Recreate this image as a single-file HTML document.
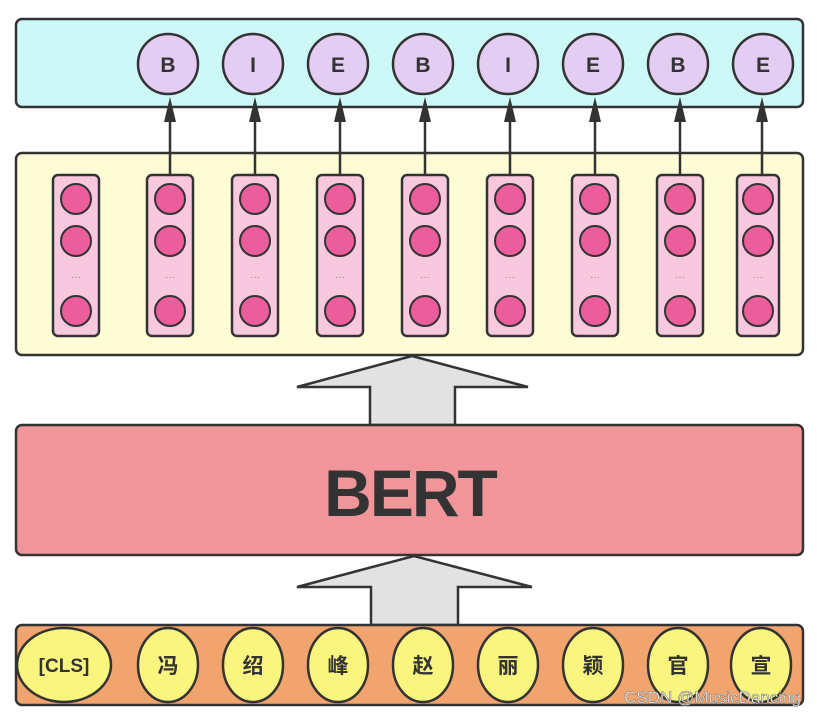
<!DOCTYPE html>
<html><head><meta charset="utf-8"><style>
html,body{margin:0;padding:0;background:#fff;}
svg{display:block;}
</style></head><body>
<svg width="818" height="718" viewBox="0 0 818 718" xmlns="http://www.w3.org/2000/svg" font-family="Liberation Sans, Noto Sans CJK SC, sans-serif">
<rect x="16" y="19" width="787" height="88" rx="6" fill="#ccf8f8" stroke="#333" stroke-width="2.5"/>
<g stroke="#333" stroke-width="2.5" fill="#e4cdf2">
<circle cx="168" cy="64" r="30"/><circle cx="253" cy="64" r="30"/><circle cx="338" cy="64" r="30"/><circle cx="423" cy="64" r="30"/>
<circle cx="508" cy="64" r="30"/><circle cx="593" cy="64" r="30"/><circle cx="678" cy="64" r="30"/><circle cx="763" cy="64" r="30"/>
</g>
<g fill="#333" font-weight="bold" font-size="21" text-anchor="middle">
<text x="168" y="72">B</text><text x="253" y="72">I</text><text x="338" y="72">E</text><text x="423" y="72">B</text>
<text x="508" y="72">I</text><text x="593" y="72">E</text><text x="678" y="72">B</text><text x="763" y="72">E</text>
</g>
<rect x="16" y="153" width="787" height="202" rx="6" fill="#fefcd4" stroke="#333" stroke-width="2.5"/>
<g stroke="#333" stroke-width="2.5">
<g fill="#f7c8de">
<rect x="53" y="175" width="46" height="161" rx="5"/>
<rect x="147" y="175" width="46" height="161" rx="5"/>
<rect x="232" y="175" width="46" height="161" rx="5"/>
<rect x="317" y="175" width="46" height="161" rx="5"/>
<rect x="402" y="175" width="46" height="161" rx="5"/>
<rect x="487" y="175" width="46" height="161" rx="5"/>
<rect x="572" y="175" width="46" height="161" rx="5"/>
<rect x="657" y="175" width="46" height="161" rx="5"/>
<rect x="737" y="175" width="42" height="161" rx="5"/>
</g>
<g fill="#ec5d9c" stroke-width="2">
<circle cx="76" cy="199" r="15"/><circle cx="76" cy="241" r="15"/><circle cx="76" cy="311" r="15"/>
<circle cx="170" cy="199" r="15"/><circle cx="170" cy="241" r="15"/><circle cx="170" cy="311" r="15"/>
<circle cx="255" cy="199" r="15"/><circle cx="255" cy="241" r="15"/><circle cx="255" cy="311" r="15"/>
<circle cx="340" cy="199" r="15"/><circle cx="340" cy="241" r="15"/><circle cx="340" cy="311" r="15"/>
<circle cx="425" cy="199" r="15"/><circle cx="425" cy="241" r="15"/><circle cx="425" cy="311" r="15"/>
<circle cx="510" cy="199" r="15"/><circle cx="510" cy="241" r="15"/><circle cx="510" cy="311" r="15"/>
<circle cx="595" cy="199" r="15"/><circle cx="595" cy="241" r="15"/><circle cx="595" cy="311" r="15"/>
<circle cx="680" cy="199" r="15"/><circle cx="680" cy="241" r="15"/><circle cx="680" cy="311" r="15"/>
<circle cx="758" cy="199" r="15"/><circle cx="758" cy="241" r="15"/><circle cx="758" cy="311" r="15"/>
</g>
<g fill="none">
<line x1="170" y1="175" x2="170" y2="110"/><line x1="255" y1="175" x2="255" y2="110"/><line x1="340" y1="175" x2="340" y2="110"/>
<line x1="425" y1="175" x2="425" y2="110"/><line x1="510" y1="175" x2="510" y2="110"/><line x1="595" y1="175" x2="595" y2="110"/>
<line x1="680" y1="175" x2="680" y2="110"/><line x1="762" y1="175" x2="762" y2="110"/>
</g>
</g>
<g fill="#333">
<polygon points="170,97 164,122 176,122"/><polygon points="255,97 249,122 261,122"/><polygon points="340,97 334,122 346,122"/>
<polygon points="425,97 419,122 431,122"/><polygon points="510,97 504,122 516,122"/><polygon points="595,97 589,122 601,122"/>
<polygon points="680,97 674,122 686,122"/><polygon points="762,97 756,122 768,122"/>
</g>
<g fill="#888" font-size="10" text-anchor="middle">
<text x="76" y="280">···</text><text x="170" y="280">···</text><text x="255" y="280">···</text><text x="340" y="280">···</text><text x="425" y="280">···</text>
<text x="510" y="280">···</text><text x="595" y="280">···</text><text x="680" y="280">···</text><text x="758" y="280">···</text>
</g>
<polygon points="412,356 297,387 370,387 370,425 455,425 455,387 528,387" fill="#e2e2e2" stroke="#333" stroke-width="2.5"/>
<polygon points="414,556 297,587 371,587 371,625 458,625 458,587 532,587" fill="#e2e2e2" stroke="#333" stroke-width="2.5"/>
<rect x="16" y="425" width="787" height="130" rx="6" fill="#f0969a" stroke="#333" stroke-width="2.5"/>
<text x="410" y="516" text-anchor="middle" font-size="66" font-weight="bold" fill="#333" letter-spacing="-2">BERT</text>
<rect x="16" y="625" width="787" height="80" rx="6" fill="#f1a46e" stroke="#333" stroke-width="2.5"/>
<g fill="#faf57e" stroke="#333" stroke-width="2.5">
<ellipse cx="64" cy="665" rx="47" ry="37"/>
<ellipse cx="168" cy="665" rx="30" ry="37"/><ellipse cx="253" cy="665" rx="30" ry="37"/><ellipse cx="338" cy="665" rx="30" ry="37"/>
<ellipse cx="423" cy="665" rx="30" ry="37"/><ellipse cx="508" cy="665" rx="30" ry="37"/><ellipse cx="593" cy="665" rx="30" ry="37"/>
<ellipse cx="678" cy="665" rx="30" ry="37"/><ellipse cx="761" cy="665" rx="30" ry="37"/>
</g>
<g fill="#333" font-weight="bold" font-size="21" text-anchor="middle">
<text x="64" y="672" font-size="19">[CLS]</text>
<text x="168" y="673">冯</text><text x="253" y="673">绍</text><text x="338" y="673">峰</text><text x="423" y="673">赵</text>
<text x="508" y="673">丽</text><text x="593" y="673">颖</text><text x="678" y="673">官</text><text x="761" y="673">宣</text>
</g>
<text x="801" y="703" text-anchor="end" font-size="17" fill="#fff" stroke="#777" stroke-width="0.6" font-family="Liberation Sans Narrow, Liberation Sans, sans-serif">CSDN @MusicDancing</text>
</svg>
</body></html>
